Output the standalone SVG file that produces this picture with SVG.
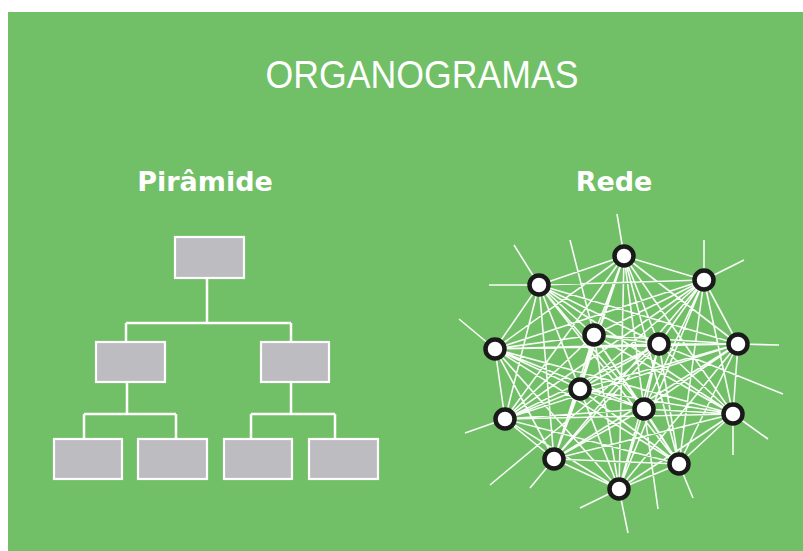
<svg xmlns="http://www.w3.org/2000/svg" width="803" height="551" viewBox="0 0 803 551">
<style>
.bg{fill:#71bf66}
.title{font-family:"Liberation Sans",Arial,sans-serif;font-size:38px;fill:#ffffff;text-anchor:middle}
.sub{font-family:"DejaVu Sans",Verdana,sans-serif;font-weight:bold;font-size:27px;fill:#ffffff;text-anchor:middle}
.box{fill:#bdbdc1;stroke:#ffffff;stroke-width:2.2}
.tree{fill:none;stroke:#ffffff;stroke-width:2.5}
.mesh{fill:none;stroke:#ffffff;stroke-width:1.6;stroke-opacity:0.95}
.node{fill:#ffffff;stroke:#1a1a1a;stroke-width:4.5}
</style>
<rect x="0" y="0" width="803" height="551" fill="#ffffff"/>
<rect class="bg" x="8" y="12" width="795" height="539"/>
<text class="title" x="422" y="88" textLength="313" lengthAdjust="spacingAndGlyphs">ORGANOGRAMAS</text>
<text class="sub" x="205" y="191">Pirâmide</text>
<text class="sub" x="614" y="191">Rede</text>

<g id="connectors">
<path class="tree" d="M207 278V323M126 323H291M126 323V342M291 323V342M127 382V414M84 414H176M84 414V439M176 414V439M291 382V414M251 414H335M251 414V439M335 414V439"/>
<path class="mesh" d="M624 256L539 285M624 256L704 280M624 256L495 349M624 256L594 335M624 256L659 344M624 256L738 344M624 256L580 389M624 256L644 409M624 256L505 419M624 256L733 414M624 256L554 459M624 256L679 464M624 256L619 489
M539 285L704 280M539 285L495 349M539 285L594 335M539 285L659 344M539 285L738 344M539 285L580 389M539 285L644 409M539 285L505 419M539 285L733 414M539 285L554 459M539 285L679 464M539 285L619 489
M704 280L495 349M704 280L594 335M704 280L659 344M704 280L738 344M704 280L580 389M704 280L644 409M704 280L505 419M704 280L733 414M704 280L554 459M704 280L679 464M704 280L619 489
M495 349L594 335M495 349L659 344M495 349L738 344M495 349L580 389M495 349L644 409M495 349L505 419M495 349L733 414M495 349L554 459M495 349L679 464M495 349L619 489
M594 335L659 344M594 335L738 344M594 335L580 389M594 335L644 409M594 335L505 419M594 335L733 414M594 335L554 459M594 335L679 464M594 335L619 489
M659 344L738 344M659 344L580 389M659 344L644 409M659 344L505 419M659 344L733 414M659 344L554 459M659 344L679 464M659 344L619 489
M738 344L580 389M738 344L644 409M738 344L505 419M738 344L733 414M738 344L554 459M738 344L679 464M738 344L619 489
M580 389L644 409M580 389L505 419M580 389L733 414M580 389L554 459M580 389L679 464M580 389L619 489
M644 409L505 419M644 409L733 414M644 409L554 459M644 409L679 464M644 409L619 489
M505 419L733 414M505 419L554 459M505 419L679 464M505 419L619 489
M733 414L554 459M733 414L679 464M733 414L619 489
M554 459L679 464M554 459L619 489M679 464L619 489
M624 256L617 214M539 285L514 245M539 285L489 285M570 240L594 335M495 349L459 319M704 280L704 240M704 280L744 260M738 344L779 345M659 344L783 394M733 414L768 439M733 414L733 455M679 464L693 498M644 409L658 509M619 489L628 533M619 489L580 508M554 459L530 488M659 344L490 485M505 419L465 433"/>
</g>

<g id="box-top"><rect class="box" x="175" y="237" width="69" height="41"/></g>
<g id="box-mid-left"><rect class="box" x="96" y="342" width="69" height="40"/></g>
<g id="box-mid-right"><rect class="box" x="261" y="342" width="68" height="40"/></g>
<g id="box-bot-1"><rect class="box" x="54" y="439" width="68" height="40"/></g>
<g id="box-bot-2"><rect class="box" x="138" y="439" width="69" height="40"/></g>
<g id="box-bot-3"><rect class="box" x="224" y="439" width="68" height="40"/></g>
<g id="box-bot-4"><rect class="box" x="309" y="439" width="69" height="40"/></g>

<g id="n1"><circle class="node" cx="624" cy="256" r="9.5"/></g>
<g id="n2"><circle class="node" cx="539" cy="285" r="9.5"/></g>
<g id="n3"><circle class="node" cx="704" cy="280" r="9.5"/></g>
<g id="n4"><circle class="node" cx="495" cy="349" r="9.5"/></g>
<g id="n5"><circle class="node" cx="594" cy="335" r="9.5"/></g>
<g id="n6"><circle class="node" cx="659" cy="344" r="9.5"/></g>
<g id="n7"><circle class="node" cx="738" cy="344" r="9.5"/></g>
<g id="n8"><circle class="node" cx="580" cy="389" r="9.5"/></g>
<g id="n9"><circle class="node" cx="644" cy="409" r="9.5"/></g>
<g id="n10"><circle class="node" cx="505" cy="419" r="9.5"/></g>
<g id="n11"><circle class="node" cx="733" cy="414" r="9.5"/></g>
<g id="n12"><circle class="node" cx="554" cy="459" r="9.5"/></g>
<g id="n13"><circle class="node" cx="679" cy="464" r="9.5"/></g>
<g id="n14"><circle class="node" cx="619" cy="489" r="9.5"/></g>
</svg>
